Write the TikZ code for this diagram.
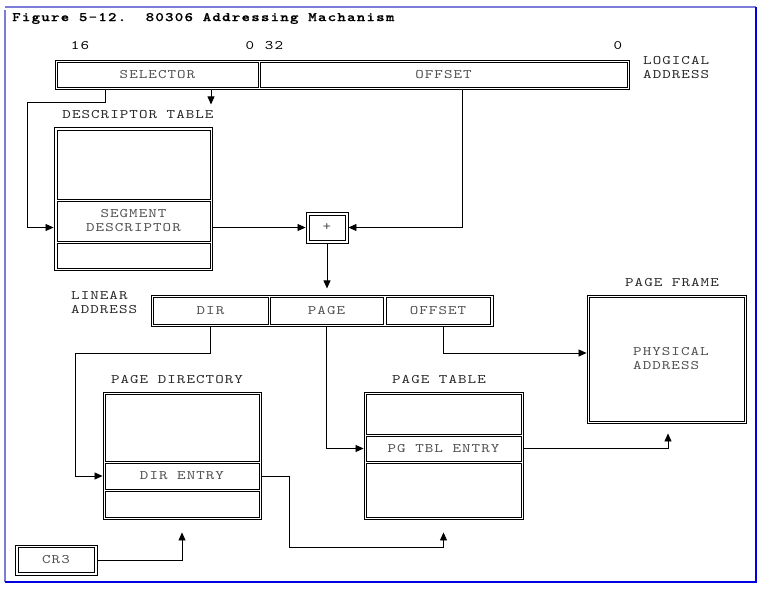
\documentclass[tikz,border=0pt]{standalone}
\usepackage{fontspec}
\usetikzlibrary{arrows.meta}
\newfontfamily\lblfont[FakeStretch=1.25,LetterSpace=8]{lmmono10-regular.otf}
\newfontfamily\titlefont[FakeStretch=1.25,LetterSpace=9,FakeBold=0.6]{lmmonolt10-bold.otf}
\definecolor{framelav}{HTML}{7B7BD8}
\definecolor{frameblue}{HTML}{0000E0}
\definecolor{lblgray}{HTML}{505050}
\definecolor{ttlgray}{HTML}{282828}
\begin{document}
\begin{tikzpicture}[x=1pt,y=-1pt,
  lbl/.style={font=\lblfont\fontsize{13pt}{14pt}\selectfont, inner sep=0pt},
  cell/.style={lbl, draw=black, line width=0.8pt, text=lblgray},
  outerbox/.style={draw=black, line width=0.9pt, inner sep=0pt},
  ttl/.style={lbl, text=ttlgray},
  ln/.style={line width=0.8pt},
  arr/.style={line width=0.8pt, -{Triangle[length=8pt,width=7pt]}}]
\useasboundingbox (0,0) rectangle (774,593);
% frame
\draw[framelav, line width=1.5pt] (5,7) -- (756,7);
\draw[framelav, line width=1.2pt] (5,10) -- (5,582);
\draw[frameblue, line width=1.5pt] (5,582) -- (756,582) -- (756,7);
\node[anchor=west, inner sep=0pt, font=\titlefont\fontsize{13pt}{14pt}\selectfont] (title) at (12,18.5) {Figure 5-12.\ \ 80306 Addressing Machanism};
% bit numbers
\node[lbl] (n16) at (80,46) {16};
\node[lbl] (n0a) at (250,46) {0};
\node[lbl] (n32) at (274,46) {32};
\node[lbl] (n0b) at (618,46) {0};
% logical address
\node[outerbox, minimum width=574pt, minimum height=29pt] (lad) at (342,74.5) {};
\node[cell, minimum width=201pt, minimum height=25pt] (sel) at (157.5,74.5) {SELECTOR};
\node[cell, minimum width=367pt, minimum height=25pt] (off) at (443.5,74.5) {OFFSET};
\node[ttl, anchor=west, align=left] (ladlbl) at (643,67.5) {LOGICAL\\ADDRESS};
% descriptor table
\node[ttl] (dtlbl) at (138,115) {DESCRIPTOR TABLE};
\node[outerbox, minimum width=158pt, minimum height=143pt] (dtab) at (133,198.5) {};
\node[cell, minimum width=153pt, minimum height=69pt] (dt1) at (133.5,164.5) {};
\node[cell, minimum width=153pt, minimum height=40pt, align=center] (dt2) at (133.5,221) {SEGMENT\\DESCRIPTOR};
\node[cell, minimum width=153pt, minimum height=25pt] (dt3) at (133.5,255.5) {};
% adder
\node[outerbox, minimum width=42pt, minimum height=31pt] (plus) at (327,227.5) {};
\node[cell, minimum width=36pt, minimum height=25pt] (plusin) at (327,227.5) {+};
% linear address
\node[ttl, anchor=west, align=left] (linlbl) at (71,303) {LINEAR\\ADDRESS};
\node[outerbox, minimum width=342pt, minimum height=31pt] (lin) at (322,310.5) {};
\node[cell, minimum width=115pt, minimum height=27pt] (dir) at (210.5,310.5) {DIR};
\node[cell, minimum width=113pt, minimum height=27pt] (page) at (326.5,310.5) {PAGE};
\node[cell, minimum width=104pt, minimum height=27pt] (loff) at (438,310.5) {OFFSET};
% page directory
\node[ttl] (pdlbl) at (177,380) {PAGE DIRECTORY};
\node[outerbox, minimum width=158pt, minimum height=127pt] (pd) at (182,455.5) {};
\node[cell, minimum width=154pt, minimum height=67pt] (pd1) at (182,427.5) {};
\node[cell, minimum width=154pt, minimum height=26pt] (pd2) at (182,476) {DIR ENTRY};
\node[cell, minimum width=154pt, minimum height=26pt] (pd3) at (182,504) {};
% page table
\node[ttl] (ptlbl) at (439,380) {PAGE TABLE};
\node[outerbox, minimum width=159pt, minimum height=127pt] (pt) at (443.5,455.5) {};
\node[cell, minimum width=155pt, minimum height=40pt] (pt1) at (443.5,414) {};
\node[cell, minimum width=155pt, minimum height=25pt] (pt2) at (443.5,448.5) {PG TBL ENTRY};
\node[cell, minimum width=155pt, minimum height=54pt] (pt3) at (443.5,490) {};
% page frame
\node[ttl] (pflbl) at (672,283) {PAGE FRAME};
\node[outerbox, minimum width=159pt, minimum height=128pt] (pf) at (666.5,359) {};
\node[cell, minimum width=155pt, minimum height=124pt] (pfin) at (666.5,359) {};
\node[lbl, text=lblgray, anchor=west, align=left] (phys) at (633,359) {PHYSICAL\\ADDRESS};
% CR3
\node[outerbox, minimum width=82pt, minimum height=30pt] (cr3) at (56,560) {};
\node[cell, minimum width=76pt, minimum height=25pt] (cr3in) at (56,560) {CR3};
% connectors
\coordinate (k1) at (27,102);
\coordinate (k2) at (75,353);
\coordinate (k3) at (289,547);
\draw[arr] ([xshift=-52.5pt]lad.south -| sel.south) |- (k1) |- (dtab.west |- plus);
\draw[arr] ([xshift=53.5pt]sel.south |- lad.south) -- ++(0,15);
\draw[arr] (dtab.east |- plus) -- (plus.west);
\draw[arr] ([xshift=19pt]off.south |- lad.south) |- (plus.east);
\draw[arr] (plus.south) -- ++(0,45);
\draw[arr] (dir.south |- lin.south) |- (k2) |- (pd.west |- pd2);
\draw[arr] (page.south |- lin.south) |- (pt.west |- pt2);
\draw[arr] ([xshift=5pt]loff.south |- lin.south) |- (pf.west |- k2);
\draw[arr] (pt.east |- pt2) -| ([xshift=1.5pt,yshift=-10pt]pf.south);
\draw[arr] (pd.east |- pd2) -| (k3) -| ([yshift=-13pt]pt.south);
\draw[arr] (cr3.east) -| ([yshift=-13pt]pd.south);
\end{tikzpicture}
\end{document}
